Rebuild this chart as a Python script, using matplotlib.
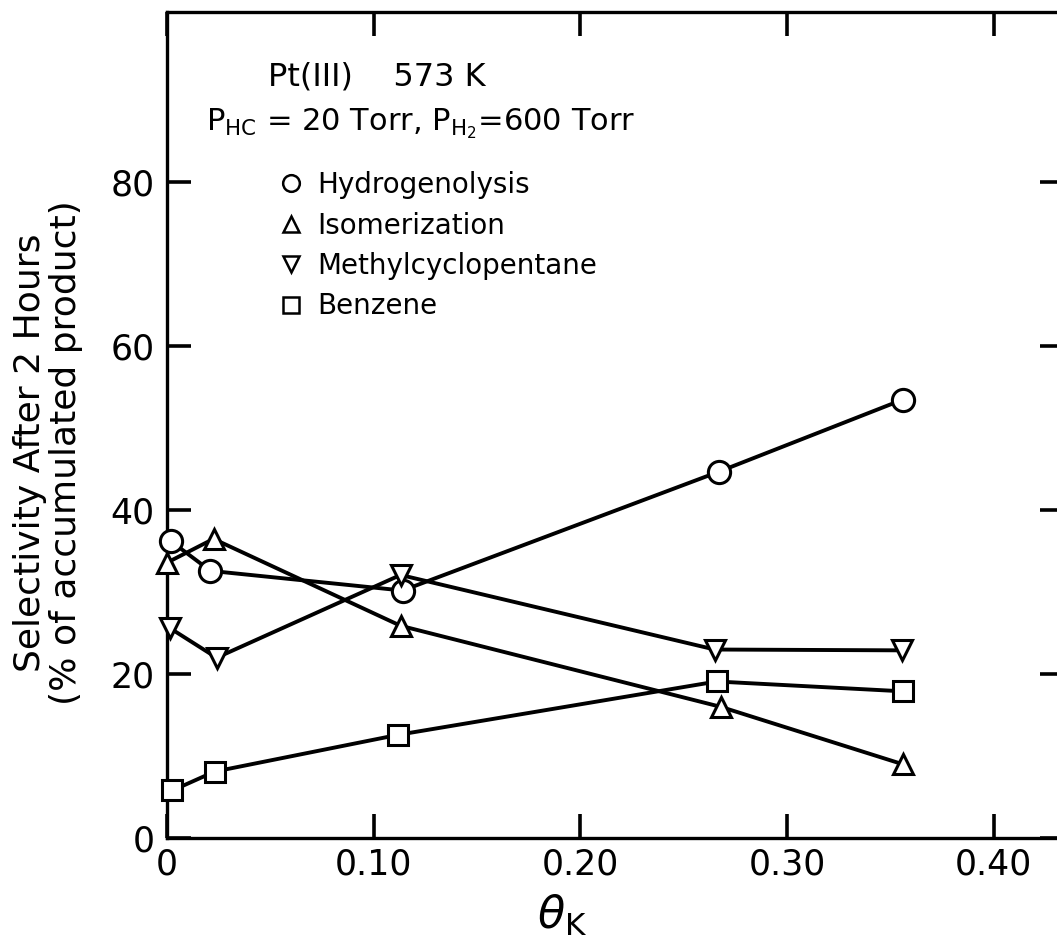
import matplotlib
matplotlib.use("Agg")
import matplotlib.pyplot as plt
from matplotlib.lines import Line2D

plt.rcParams['font.family'] = ['DejaVu Sans']
plt.rcParams['mathtext.fontset'] = 'dejavusans'

# ---- data ----
hydro_x = [0.002, 0.021, 0.114, 0.267, 0.356]
hydro_y = [36.2, 32.6, 30.2, 44.7, 53.5]

iso_x = [0.000, 0.0225, 0.113, 0.268, 0.356]
iso_y = [33.6, 36.5, 25.9, 16.0, 9.0]

mcp_x = [0.0015, 0.024, 0.113, 0.265, 0.3555]
mcp_y = [25.6, 22.0, 32.1, 23.0, 22.9]

benz_x = [0.0026, 0.023, 0.112, 0.266, 0.356]
benz_y = [5.8, 8.1, 12.6, 19.1, 17.9]

series_labels = ["Hydrogenolysis", "Isomerization", "Methylcyclopentane", "Benzene"]
xticks = [0, 0.10, 0.20, 0.30, 0.40]
xtick_labels = ["0", "0.10", "0.20", "0.30", "0.40"]
yticks = [0, 20, 40, 60, 80]
ytick_labels = ["0", "20", "40", "60", "80"]

W, H = 1057, 940
fig = plt.figure(figsize=(W / 100, H / 100), dpi=100)
ax_l, ax_r, ax_t, ax_b = 167, 1064, 12, 838
ax = fig.add_axes([ax_l / W, 1 - ax_b / H, (ax_r - ax_l) / W, (ax_b - ax_t) / H])
ax.set_xlim(0, 0.434)
ax.set_ylim(0, 100.8)

lw = 2.8
common = dict(color='black', lw=lw, mfc='white', mec='black', mew=2.2, clip_on=False)
ax.plot(hydro_x, hydro_y, marker='o', ms=16, zorder=3, **common)
ax.plot(iso_x, iso_y, marker='^', ms=15, zorder=4, **common)
ax.plot(mcp_x, mcp_y, marker='v', ms=15, zorder=5, **common)
ax.plot(benz_x, benz_y, marker='s', ms=14, zorder=6, **common)

for sp in ax.spines.values():
    sp.set_linewidth(2.4)

ax.set_xticks(xticks)
ax.set_xticklabels(xtick_labels)
ax.set_yticks(yticks)
ax.set_yticklabels(ytick_labels)
ax.tick_params(axis='both', direction='in', length=17, width=2.6, labelsize=25,
               top=True, right=True)
ax.tick_params(axis='y', pad=9)
ax.tick_params(axis='x', pad=7)

ax.set_ylabel("Selectivity After 2 Hours\n(% of accumulated product)", fontsize=26,
              linespacing=1.05)
ax.yaxis.set_label_coords(-0.094, 0.466)
ax.set_xlabel(r'$\theta_{\mathrm{K}}$', fontsize=32)
ax.xaxis.set_label_coords(0.44, -0.066)

# header text
fig.text(268 / W, 1 - 86 / H, "Pt(III)    573 K", fontsize=23, va='baseline', ha='left')
fig.text(206 / W, 1 - 130 / H,
         r'P$_{\mathregular{HC}}$ = 20 Torr, P$_{\mathregular{H_2}}$=600 Torr',
         fontsize=22, va='baseline', ha='left')

handles = [
    Line2D([], [], ls='none', marker='o', ms=12, mfc='white', mec='black', mew=1.8, color='black'),
    Line2D([], [], ls='none', marker='^', ms=12, mfc='white', mec='black', mew=1.8, color='black'),
    Line2D([], [], ls='none', marker='v', ms=12, mfc='white', mec='black', mew=1.8, color='black'),
    Line2D([], [], ls='none', marker='s', ms=11, mfc='white', mec='black', mew=1.8, color='black'),
]
leg = ax.legend(handles, series_labels, loc='upper left',
                bbox_to_anchor=((278 - ax_l) / (ax_r - ax_l), (ax_b - 171) / (ax_b - ax_t)),
                frameon=False, fontsize=20, handlelength=0.95, handletextpad=0.45,
                labelspacing=0.45, borderpad=0, borderaxespad=0)

fig.savefig("out.png", dpi=100)
